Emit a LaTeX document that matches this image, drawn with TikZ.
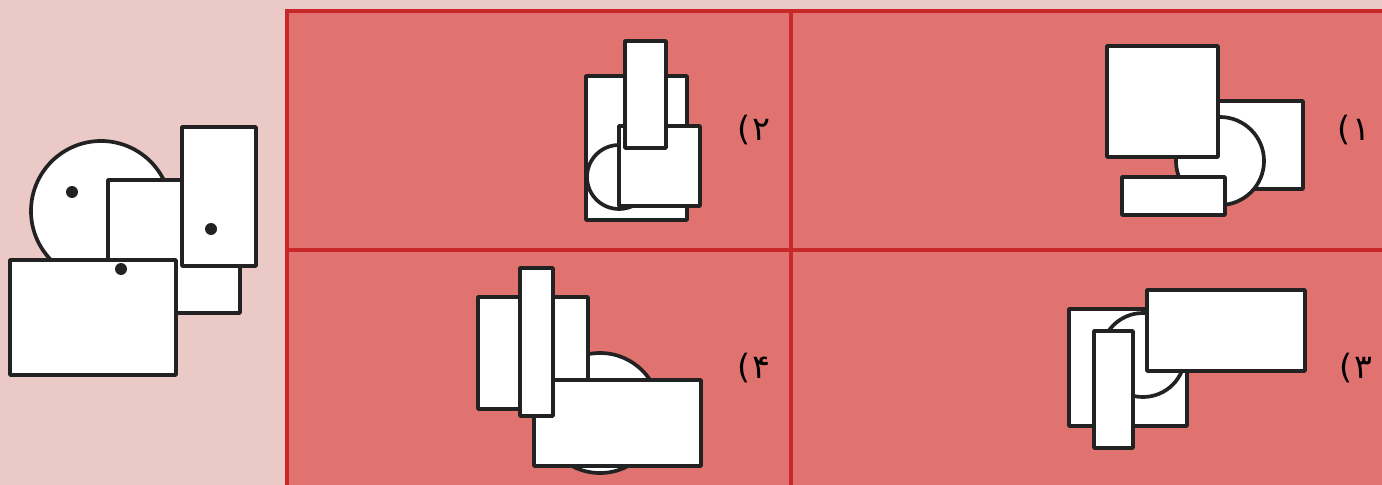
\documentclass[tikz,border=0pt]{standalone}
\usepackage{fontspec}
\newfontfamily\arabicfont[Script=Arabic]{DejaVu Sans}
\usepackage{xcolor}
\usepackage{tikz}
\usetikzlibrary{calc}

\definecolor{ink}{HTML}{222222}
\definecolor{leftbg}{HTML}{EBC9C7}
\definecolor{panelbg}{HTML}{E07270}
\definecolor{gridred}{HTML}{C8282A}

\tikzset{
  piece/.style={draw=ink, fill=white, line width=1.05pt, line join=round},
  gridline/.style={draw=gridred, line width=1.1pt},
  choice/.style={font=\arabicfont\fontsize{9.5}{11}\selectfont, text=black, inner sep=0pt},
}

\begin{document}
\begin{tikzpicture}[x=0.01cm, y=-0.01cm]

		% --- 1. background and frame ---
		\useasboundingbox (0,0) rectangle (1382,485);
		\fill[leftbg] (0,0) rectangle (1382,485);
		\fill[panelbg] (287,11) rectangle (1382,485);
		\draw[gridline] (287,485) -- (287,11) -- (1382,11);
		\draw[gridline] (791,11) -- (791,485);
		\draw[gridline] (287,250) -- (1382,250);

		% --- 2. the given figure (left) ---
		\draw[piece] (101,211) circle (70);
		\draw[piece] (108,180) rectangle (240,313);
		\draw[piece] (182,127) rectangle (256,266);
		\draw[piece] (10,260) rectangle (176,375);
		\foreach \p in {(72,192), (211,229), (121,269)} {
			\fill[ink] \p circle (6);
		}

		% --- 3. option 2 (top left panel) ---
		\draw[piece] (586,76) rectangle (687,220);
		\draw[piece] (619,177) circle (32);
		\draw[piece] (619,126) rectangle (700,206);
		\draw[piece] (625,41) rectangle (666,148);
		\node[choice] (opt2) at (754,130) {)\kern0.5pt ۲};

		% --- 4. option 1 (top right panel) ---
		\draw[piece] (1205,101) rectangle (1303,189);
		\draw[piece] (1220,161) circle (44);
		\draw[piece] (1107,46) rectangle (1218,157);
		\draw[piece] (1122,177) rectangle (1225,215);
		\node[choice] (opt1) at (1354,130) {)\kern0.5pt ۱};

		% --- 5. option 4 (bottom left panel) ---
		\draw[piece] (600,413) circle (60);
		\draw[piece] (478,297) rectangle (588,409);
		\draw[piece] (534,380) rectangle (701,466);
		\draw[piece] (520,268) rectangle (553,416);
		\node[choice] (opt4) at (754,368) {)\kern0.5pt ۴};

		% --- 6. option 3 (bottom right panel) ---
		\draw[piece] (1069,309) rectangle (1187,426);
		\draw[piece] (1143,355) circle (42);
		\draw[piece] (1094,331) rectangle (1133,448);
		\draw[piece] (1147,290) rectangle (1305,371);
		\node[choice] (opt3) at (1356,368) {)\kern0.5pt ۳};

	\end{tikzpicture}
\end{document}
